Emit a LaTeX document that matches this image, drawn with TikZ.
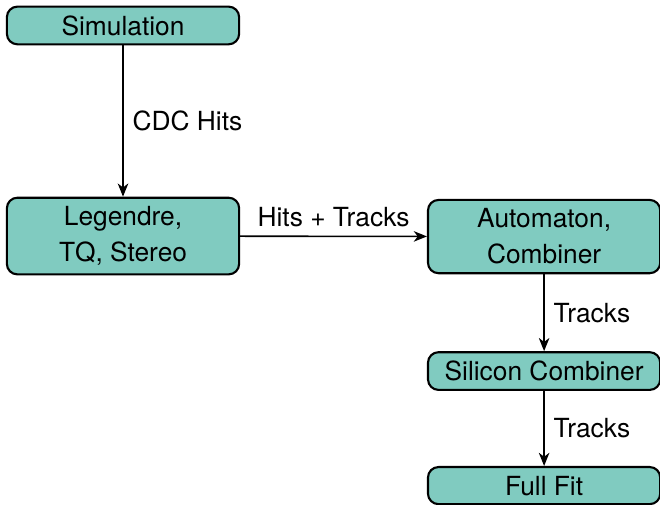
\documentclass[tikz,border=0pt]{standalone}
\usepackage{fontspec}
\setmainfont{TeX Gyre Heros}
\usepackage{tikz}
\usetikzlibrary{positioning,arrows.meta}
\usepackage{xcolor}
\definecolor{stagecolor}{RGB}{128, 203, 192}

\begin{document}
\begin{tikzpicture}[
    stage/.style={draw, thick, rounded corners=4pt, fill=stagecolor, minimum width=3.1cm, minimum height=0.49cm, align=center, font=\fontsize{10}{13.7}\selectfont},
    flow/.style={->, >={Stealth[length=5pt,width=4pt,inset=1.5pt]}, semithick},
    lbl/.style={font=\normalsize}
]
    \useasboundingbox (0,0) rectangle (8.81,-6.73);

    % Track finding stages
    \node[stage] (sim) at (1.642, -0.340) {Simulation};
    \node[stage] (leg) at (1.642, -3.151) {Legendre,\\TQ, Stereo};
    \node[stage] (aut) at (7.263, -3.158) {Automaton,\\Combiner};
    \node[stage] (svd) at (7.263, -4.953) {Silicon Combiner};
    \node[stage] (fit) at (7.263, -6.482) {Full Fit};

    % Data flow
    \draw[flow] (sim) -- node[lbl, right] {CDC Hits} (leg);
    \draw[flow] (leg) -- node[lbl, above] {Hits + Tracks} (aut);
    \draw[flow] (aut) -- node[lbl, right] {Tracks} (svd);
    \draw[flow] (svd) -- node[lbl, right] {Tracks} (fit);
\end{tikzpicture}
\end{document}
